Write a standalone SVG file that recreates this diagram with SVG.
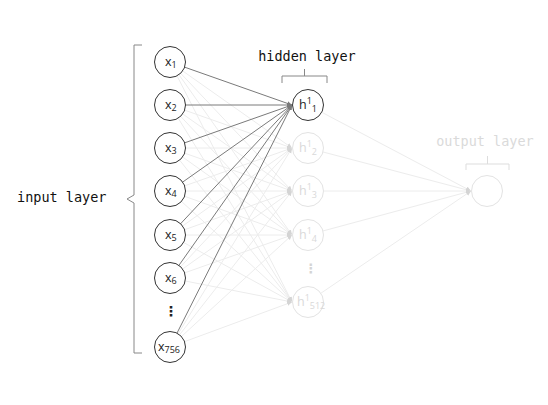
<svg xmlns="http://www.w3.org/2000/svg" width="548" height="405" viewBox="0 0 548 405">
<style>
.lbl{font-family:"DejaVu Sans Mono",monospace;font-size:13.5px}
.dk{fill:#fff;stroke:#333;stroke-width:1}
.ft{fill:#fff;stroke:#e3e3e3;stroke-width:1}
.nt{font-family:"Open Sans","Noto Sans",sans-serif;font-size:12.5px;fill:#222}
.nf{font-family:"Open Sans","Noto Sans",sans-serif;font-size:12.5px;fill:#d9d9d9}
.sub{font-size:9px}
.dl{stroke:#7a7a7a;stroke-width:1;fill:none}
.fl{stroke:#ececec;stroke-width:1;fill:none}
.br{stroke:#888;stroke-width:1;fill:none}
.brf{stroke:#ddd;stroke-width:1;fill:none}
</style>
<defs>
<marker id="ad" markerWidth="6" markerHeight="6" refX="5" refY="3" orient="auto" markerUnits="userSpaceOnUse"><path d="M0,0.8 L5,3 L0,5.2 z" fill="#7a7a7a"/></marker>
<marker id="af" markerWidth="6" markerHeight="6" refX="5" refY="3" orient="auto" markerUnits="userSpaceOnUse"><path d="M0,0.8 L5,3 L0,5.2 z" fill="#d4d4d4"/></marker>
</defs>
<rect width="548" height="405" fill="#fff"/>
<g id="connectors">
<g class="fl" marker-end="url(#af)">
<line x1="170" y1="62" x2="292" y2="148"/><line x1="170" y1="105" x2="292" y2="148"/><line x1="170" y1="148" x2="292" y2="148"/><line x1="170" y1="191" x2="292" y2="148"/><line x1="170" y1="235" x2="292" y2="148"/><line x1="170" y1="278" x2="292" y2="148"/><line x1="170" y1="347" x2="292" y2="148"/>
<line x1="170" y1="62" x2="292" y2="191"/><line x1="170" y1="105" x2="292" y2="191"/><line x1="170" y1="148" x2="292" y2="191"/><line x1="170" y1="191" x2="292" y2="191"/><line x1="170" y1="235" x2="292" y2="191"/><line x1="170" y1="278" x2="292" y2="191"/><line x1="170" y1="347" x2="292" y2="191"/>
<line x1="170" y1="62" x2="292" y2="235"/><line x1="170" y1="105" x2="292" y2="235"/><line x1="170" y1="148" x2="292" y2="235"/><line x1="170" y1="191" x2="292" y2="235"/><line x1="170" y1="235" x2="292" y2="235"/><line x1="170" y1="278" x2="292" y2="235"/><line x1="170" y1="347" x2="292" y2="235"/>
<line x1="170" y1="62" x2="292" y2="302"/><line x1="170" y1="105" x2="292" y2="302"/><line x1="170" y1="148" x2="292" y2="302"/><line x1="170" y1="191" x2="292" y2="302"/><line x1="170" y1="235" x2="292" y2="302"/><line x1="170" y1="278" x2="292" y2="302"/><line x1="170" y1="347" x2="292" y2="302"/>
<line x1="308" y1="105" x2="471" y2="191"/><line x1="308" y1="148" x2="471" y2="191"/><line x1="308" y1="191" x2="471" y2="191"/><line x1="308" y1="235" x2="471" y2="191"/><line x1="308" y1="302" x2="471" y2="191"/>
</g>
<g class="dl" marker-end="url(#ad)">
<line x1="170" y1="62" x2="292" y2="105"/><line x1="170" y1="105" x2="292" y2="105"/><line x1="170" y1="148" x2="292" y2="105"/><line x1="170" y1="191" x2="292" y2="105"/><line x1="170" y1="235" x2="292" y2="105"/><line x1="170" y1="278" x2="292" y2="105"/><line x1="170" y1="347" x2="292" y2="105"/>
</g>
</g>
<g id="input-layer-label">
<text class="lbl" x="17" y="202" fill="#111">input layer</text>
<path class="br" d="M142,45 H134 V195 L127,199 L134,203 V353 H142"/>
</g>
<g id="hidden-layer-label">
<text class="lbl" x="307" y="61" text-anchor="middle" fill="#111">hidden layer</text>
<path class="br" d="M282,83 V76 H327 V83 M304.5,76 V69"/>
</g>
<g id="output-layer-label">
<text class="lbl" x="485" y="146" text-anchor="middle" fill="#dadada">output layer</text>
<path class="brf" d="M466,170 V164 H509 V170 M487.5,164 V156"/>
</g>
<g id="x1"><circle class="dk" cx="170" cy="62" r="15.5"/><text class="nt" x="165" y="66">x<tspan class="sub" dy="2">1</tspan></text></g>
<g id="x2"><circle class="dk" cx="170" cy="105" r="15.5"/><text class="nt" x="165" y="109">x<tspan class="sub" dy="2">2</tspan></text></g>
<g id="x3"><circle class="dk" cx="170" cy="148" r="15.5"/><text class="nt" x="165" y="152">x<tspan class="sub" dy="2">3</tspan></text></g>
<g id="x4"><circle class="dk" cx="170" cy="191" r="15.5"/><text class="nt" x="165" y="195">x<tspan class="sub" dy="2">4</tspan></text></g>
<g id="x5"><circle class="dk" cx="170" cy="235" r="15.5"/><text class="nt" x="165" y="239">x<tspan class="sub" dy="2">5</tspan></text></g>
<g id="x6"><circle class="dk" cx="170" cy="278" r="15.5"/><text class="nt" x="165" y="282">x<tspan class="sub" dy="2">6</tspan></text></g>
<g id="x-dots"><text x="171" y="316" text-anchor="middle" font-family="DejaVu Sans,sans-serif" font-size="14" font-weight="bold" fill="#222">⋮</text></g>
<g id="x756"><circle class="dk" cx="170" cy="347" r="15.5"/><text class="nt" x="158" y="351">x<tspan class="sub" dy="2">756</tspan></text></g>
<g id="h1"><circle class="dk" cx="308" cy="105" r="15.5"/><text class="nt" x="299" y="109">h<tspan class="sub" dy="-5">1</tspan><tspan class="sub" dy="8">1</tspan></text></g>
<g id="h2"><circle class="ft" cx="308" cy="148" r="15.5"/><text class="nf" x="299" y="152">h<tspan class="sub" dy="-5">1</tspan><tspan class="sub" dy="8">2</tspan></text></g>
<g id="h3"><circle class="ft" cx="308" cy="191" r="15.5"/><text class="nf" x="299" y="195">h<tspan class="sub" dy="-5">1</tspan><tspan class="sub" dy="8">3</tspan></text></g>
<g id="h4"><circle class="ft" cx="308" cy="235" r="15.5"/><text class="nf" x="299" y="239">h<tspan class="sub" dy="-5">1</tspan><tspan class="sub" dy="8">4</tspan></text></g>
<g id="h-dots"><text x="311" y="273" text-anchor="middle" font-family="DejaVu Sans,sans-serif" font-size="13" font-weight="bold" fill="#d4d4d4">⋮</text></g>
<g id="h512"><circle class="ft" cx="308" cy="302" r="15.5"/><text class="nf" x="297" y="306">h<tspan class="sub" dy="-5">1</tspan><tspan class="sub" dy="8">512</tspan></text></g>
<g id="output"><circle class="ft" cx="487" cy="191" r="15.5"/></g>
</svg>
